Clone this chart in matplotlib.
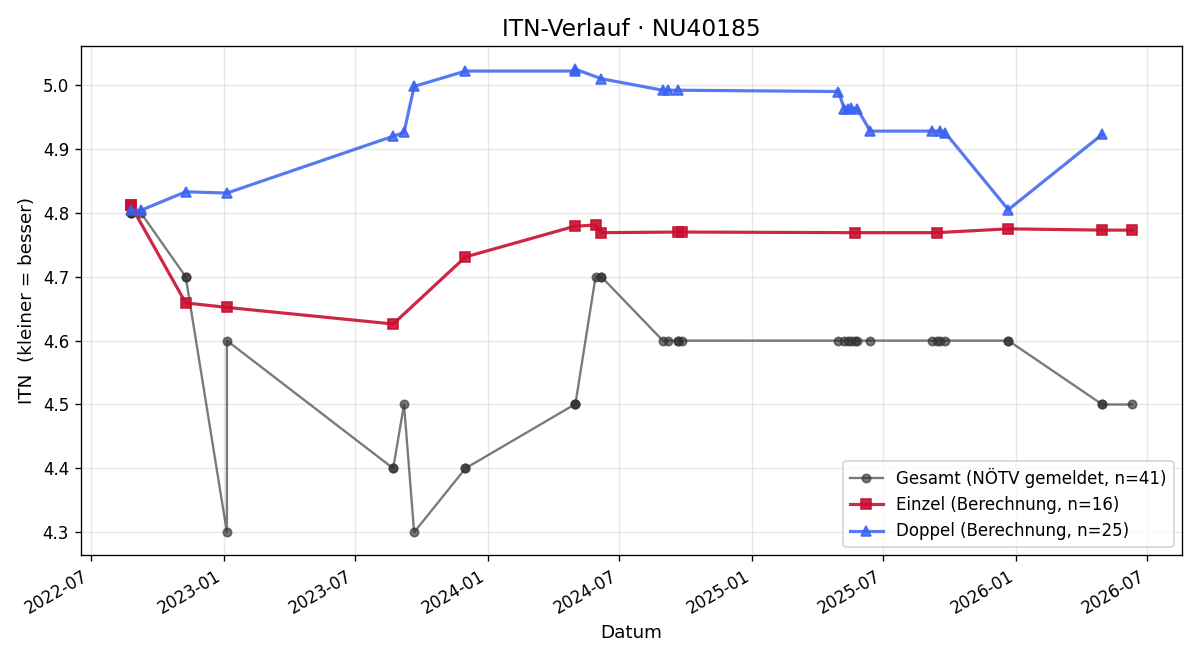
import matplotlib
matplotlib.use("Agg")
import matplotlib.pyplot as plt
import matplotlib.dates as mdates
import pandas as pd

# Einzel (Berechnung)
einzel_dates = ["2022-08-25", "2022-08-25", "2022-11-09", "2023-01-05", "2023-08-23",
                "2023-12-01", "2024-04-30", "2024-05-29", "2024-06-06", "2024-09-20",
                "2024-09-26", "2025-05-23", "2025-09-13", "2025-12-21", "2026-04-30",
                "2026-06-10"]
einzel_vals = [4.812, 4.812, 4.659, 4.652, 4.626,
               4.731, 4.779, 4.781, 4.769, 4.770,
               4.770, 4.769, 4.769, 4.775, 4.773,
               4.773]

# Doppel (Berechnung)
doppel_dates = ["2022-08-25", "2022-09-08", "2022-11-09", "2023-01-05", "2023-08-23",
                "2023-09-07", "2023-09-21", "2023-12-01", "2024-04-30", "2024-05-01",
                "2024-06-06", "2024-08-30", "2024-09-06", "2024-09-20", "2025-04-30",
                "2025-05-08", "2025-05-13", "2025-05-18", "2025-05-26", "2025-06-13",
                "2025-09-06", "2025-09-18", "2025-09-25", "2025-12-21", "2026-04-30"]
doppel_vals = [4.804, 4.804, 4.833, 4.831, 4.920,
               4.926, 4.998, 5.022, 5.022, 5.025,
               5.010, 4.992, 4.992, 4.992, 4.990,
               4.963, 4.963, 4.964, 4.963, 4.928,
               4.928, 4.928, 4.925, 4.805, 4.923]

# Gesamt (NÖTV gemeldet)
gesamt_dates = ["2022-08-25", "2022-08-25", "2022-08-25", "2022-09-08", "2022-11-09",
                "2022-11-09", "2023-01-05", "2023-01-05", "2023-08-23", "2023-08-23",
                "2023-09-07", "2023-09-21", "2023-12-01", "2023-12-01", "2024-04-30",
                "2024-04-30", "2024-05-01", "2024-05-29", "2024-06-06", "2024-06-06",
                "2024-08-30", "2024-09-06", "2024-09-20", "2024-09-20", "2024-09-26",
                "2025-04-30", "2025-05-08", "2025-05-13", "2025-05-18", "2025-05-23",
                "2025-05-26", "2025-06-13", "2025-09-06", "2025-09-13", "2025-09-18",
                "2025-09-25", "2025-12-21", "2025-12-21", "2026-04-30", "2026-04-30",
                "2026-06-10"]
gesamt_vals = [4.8, 4.8, 4.8, 4.8, 4.7,
               4.7, 4.3, 4.6, 4.4, 4.4,
               4.5, 4.3, 4.4, 4.4, 4.5,
               4.5, 4.5, 4.7, 4.7, 4.7,
               4.6, 4.6, 4.6, 4.6, 4.6,
               4.6, 4.6, 4.6, 4.6, 4.6,
               4.6, 4.6, 4.6, 4.6, 4.6,
               4.6, 4.6, 4.6, 4.5, 4.5,
               4.5]

fig, ax = plt.subplots(figsize=(10, 5.5), dpi=120)

ax.plot(pd.to_datetime(gesamt_dates), gesamt_vals, marker="o", color="#333333",
        alpha=0.65, linewidth=1.4, markersize=5,
        label=f"Gesamt (NÖTV gemeldet, n={len(gesamt_vals)})")
ax.plot(pd.to_datetime(einzel_dates), einzel_vals, marker="s", color="#c8102e",
        alpha=0.9, linewidth=1.9, markersize=6,
        label=f"Einzel (Berechnung, n={len(einzel_vals)})")
ax.plot(pd.to_datetime(doppel_dates), doppel_vals, marker="^", color="#3a62f0",
        alpha=0.85, linewidth=1.9, markersize=6,
        label=f"Doppel (Berechnung, n={len(doppel_vals)})")

ax.set_title("ITN-Verlauf · NU40185", fontsize=14)
ax.set_xlabel("Datum", fontsize=11)
ax.set_ylabel("ITN  (kleiner = besser)", fontsize=11)
ax.xaxis.set_major_locator(mdates.MonthLocator(bymonth=[1, 7]))
ax.xaxis.set_major_formatter(mdates.DateFormatter("%Y-%m"))
ax.grid(True, alpha=0.3)
ax.legend(loc="lower right")
fig.autofmt_xdate()

plt.tight_layout()
plt.savefig("out.png")
